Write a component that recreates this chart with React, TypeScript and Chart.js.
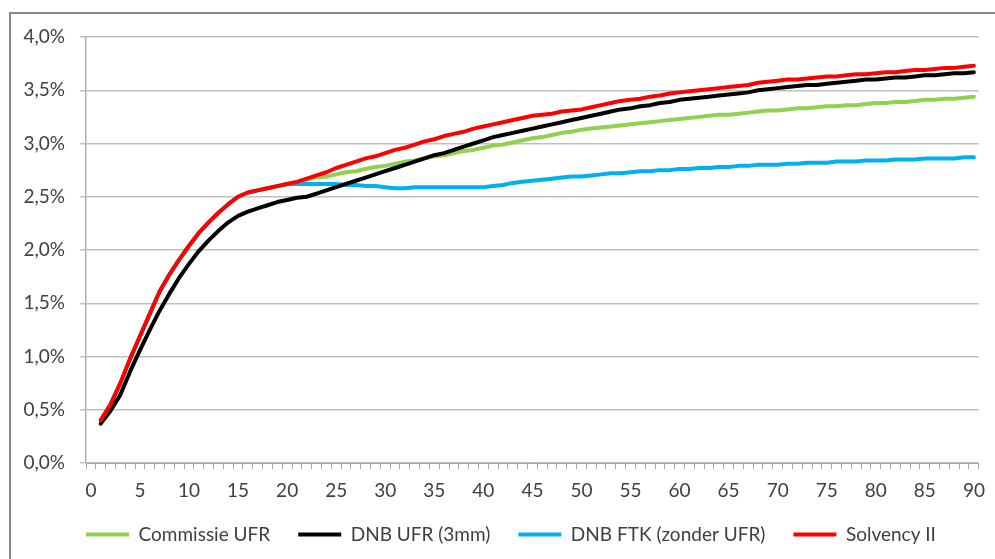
import React, { useEffect, useRef } from "react";
import { Chart, registerables } from "chart.js";

Chart.register(...registerables);

// Categories: maturity in years (0..90); data starts at year 1
const maturities: string[] = Array.from({ length: 91 }, (_, i) => String(i));

const seriesNames = ["Commissie UFR", "DNB UFR (3mm)", "DNB FTK (zonder UFR)", "Solvency II"];
const seriesColors = ["#92d050", "#000000", "#00b0f0", "#ff0000"];

// Values in %, years 1..90
const commissieUFR = [
  0.40, 0.55, 0.75, 0.98, 1.19, 1.40, 1.61, 1.77, 1.91, 2.04,
  2.16, 2.26, 2.35, 2.43, 2.50, 2.54, 2.56, 2.58, 2.60, 2.62,
  2.64, 2.66, 2.68, 2.69, 2.71, 2.73, 2.74, 2.76, 2.78, 2.79,
  2.81, 2.83, 2.84, 2.86, 2.88, 2.89, 2.91, 2.93, 2.94, 2.96,
  2.98, 2.99, 3.01, 3.03, 3.05, 3.06, 3.08, 3.10, 3.11, 3.13,
  3.14, 3.15, 3.16, 3.17, 3.18, 3.19, 3.20, 3.21, 3.22, 3.23,
  3.24, 3.25, 3.26, 3.27, 3.27, 3.28, 3.29, 3.30, 3.31, 3.31,
  3.32, 3.33, 3.33, 3.34, 3.35, 3.35, 3.36, 3.36, 3.37, 3.38,
  3.38, 3.39, 3.39, 3.40, 3.41, 3.41, 3.42, 3.42, 3.43, 3.44,
];

const dnbUFR3mm = [
  0.37, 0.49, 0.64, 0.86, 1.06, 1.25, 1.43, 1.59, 1.74, 1.87,
  1.99, 2.09, 2.18, 2.26, 2.32, 2.36, 2.39, 2.42, 2.45, 2.47,
  2.49, 2.50, 2.53, 2.56, 2.59, 2.62, 2.65, 2.68, 2.71, 2.74,
  2.77, 2.80, 2.83, 2.86, 2.89, 2.91, 2.94, 2.97, 3.00, 3.03,
  3.06, 3.08, 3.10, 3.12, 3.14, 3.16, 3.18, 3.20, 3.22, 3.24,
  3.26, 3.28, 3.30, 3.32, 3.33, 3.35, 3.36, 3.38, 3.39, 3.41,
  3.42, 3.43, 3.44, 3.45, 3.46, 3.47, 3.48, 3.50, 3.51, 3.52,
  3.53, 3.54, 3.55, 3.55, 3.56, 3.57, 3.58, 3.59, 3.60, 3.60,
  3.61, 3.62, 3.62, 3.63, 3.64, 3.64, 3.65, 3.66, 3.66, 3.67,
];

const dnbFTK = [
  0.40, 0.55, 0.75, 0.98, 1.19, 1.40, 1.61, 1.77, 1.91, 2.04,
  2.16, 2.26, 2.35, 2.43, 2.50, 2.54, 2.56, 2.58, 2.60, 2.62,
  2.62, 2.62, 2.62, 2.62, 2.62, 2.61, 2.61, 2.60, 2.60, 2.59,
  2.58, 2.58, 2.59, 2.59, 2.59, 2.59, 2.59, 2.59, 2.59, 2.59,
  2.60, 2.61, 2.63, 2.64, 2.65, 2.66, 2.67, 2.68, 2.69, 2.69,
  2.70, 2.71, 2.72, 2.72, 2.73, 2.74, 2.74, 2.75, 2.75, 2.76,
  2.76, 2.77, 2.77, 2.78, 2.78, 2.79, 2.79, 2.80, 2.80, 2.80,
  2.81, 2.81, 2.82, 2.82, 2.82, 2.83, 2.83, 2.83, 2.84, 2.84,
  2.84, 2.85, 2.85, 2.85, 2.86, 2.86, 2.86, 2.86, 2.87, 2.87,
];

const solvencyII = [
  0.40, 0.55, 0.75, 0.98, 1.19, 1.40, 1.61, 1.77, 1.91, 2.04,
  2.16, 2.26, 2.35, 2.43, 2.50, 2.54, 2.56, 2.58, 2.60, 2.62,
  2.64, 2.67, 2.70, 2.73, 2.77, 2.80, 2.83, 2.86, 2.88, 2.91,
  2.94, 2.96, 2.99, 3.02, 3.04, 3.07, 3.09, 3.11, 3.14, 3.16,
  3.18, 3.20, 3.22, 3.24, 3.26, 3.27, 3.28, 3.30, 3.31, 3.32,
  3.34, 3.36, 3.38, 3.40, 3.41, 3.42, 3.44, 3.45, 3.47, 3.48,
  3.49, 3.50, 3.51, 3.52, 3.53, 3.54, 3.55, 3.57, 3.58, 3.59,
  3.60, 3.60, 3.61, 3.62, 3.63, 3.63, 3.64, 3.65, 3.65, 3.66,
  3.67, 3.67, 3.68, 3.69, 3.69, 3.70, 3.71, 3.71, 3.72, 3.73,
];

const yTicks = [0, 0.5, 1, 1.5, 2, 2.5, 3, 3.5, 4];

const FONT = "Lato, 'Open Sans', sans-serif";
const TEXT = "#404040";

// shift the legend box so that its centre matches the reference
const legendShift = {
  id: "legendShift",
  afterLayout(chart: any) {
    if (chart.legend) {
      chart.legend.left = 42;
    }
  },
};

export default function App() {
  const ref = useRef<HTMLCanvasElement | null>(null);

  useEffect(() => {
    if (!ref.current) return;
    const series = [commissieUFR, dnbUFR3mm, dnbFTK, solvencyII];
    const drawOrder = [3, 1, 2, 0];
    const chart = new Chart(ref.current, {
      type: "line",
      data: {
        labels: maturities,
        datasets: series.map((s, i) => ({
          label: seriesNames[i],
          data: [null, ...s],
          borderColor: seriesColors[i],
          backgroundColor: seriesColors[i],
          borderWidth: 4,
          pointRadius: 0,
          tension: 0,
          borderJoinStyle: "round" as const,
          borderCapStyle: "round" as const,
          order: drawOrder[i],
          fill: false,
        })),
      },
      plugins: [legendShift],
      options: {
        responsive: false,
        animation: false,
        layout: { padding: { left: 0, right: 15, top: 37, bottom: 5 } },
        plugins: {
          tooltip: { enabled: false },
          legend: {
            position: "bottom",
            labels: {
              boxWidth: 43,
              boxHeight: 4,
              padding: 28,
              color: TEXT,
              font: { family: FONT, size: 19 },
              sort: (a: any, b: any) => a.datasetIndex - b.datasetIndex,
              generateLabels: (c: any) =>
                Chart.defaults.plugins.legend.labels
                  .generateLabels(c)
                  .map((l: any) => ({ ...l, lineWidth: 0, fillStyle: l.strokeStyle })),
            },
          },
        },
        scales: {
          x: {
            type: "category",
            offset: true,
            afterFit: (s: any) => {
              s.height = 34;
            },
            grid: {
              offset: true,
              drawOnChartArea: false,
              drawTicks: true,
              tickLength: 6,
              color: "#a6a6a6",
            },
            border: { color: "#a6a6a6", width: 1 },
            ticks: {
              autoSkip: false,
              maxRotation: 0,
              minRotation: 0,
              padding: 10,
              color: TEXT,
              font: { family: FONT, size: 19 },
              callback: (_v: any, i: number) => (i % 5 === 0 ? maturities[i] : ""),
            },
          },
          y: {
            min: 0,
            max: 4,
            afterFit: (s: any) => {
              s.width = 86;
            },
            afterBuildTicks: (s: any) => {
              s.ticks = yTicks.map((v) => ({ value: v }));
            },
            grid: { color: "#c0c0c0", lineWidth: 1.5, tickLength: 6 },
            border: { color: "#b0b0b0", width: 1.5 },
            ticks: {
              padding: 15,
              color: TEXT,
              font: { family: FONT, size: 19 },
              callback: (v: any) => Number(v).toFixed(1).replace(".", ",") + "%",
            },
          },
        },
      },
    } as any);
    return () => chart.destroy();
  }, []);

  return (
    <div style={{ position: "fixed", left: 0, top: 0, width: 995, height: 559, overflow: "hidden", background: "#fff" }}>
      <div
        style={{
          position: "absolute",
          left: 9,
          top: 12,
          width: 1200,
          height: 800,
          border: "2px solid #878787",
          boxSizing: "border-box",
        }}
      />
      <canvas ref={ref} width={995} height={559} style={{ position: "absolute", left: 0, top: 0 }} />
    </div>
  );
}
